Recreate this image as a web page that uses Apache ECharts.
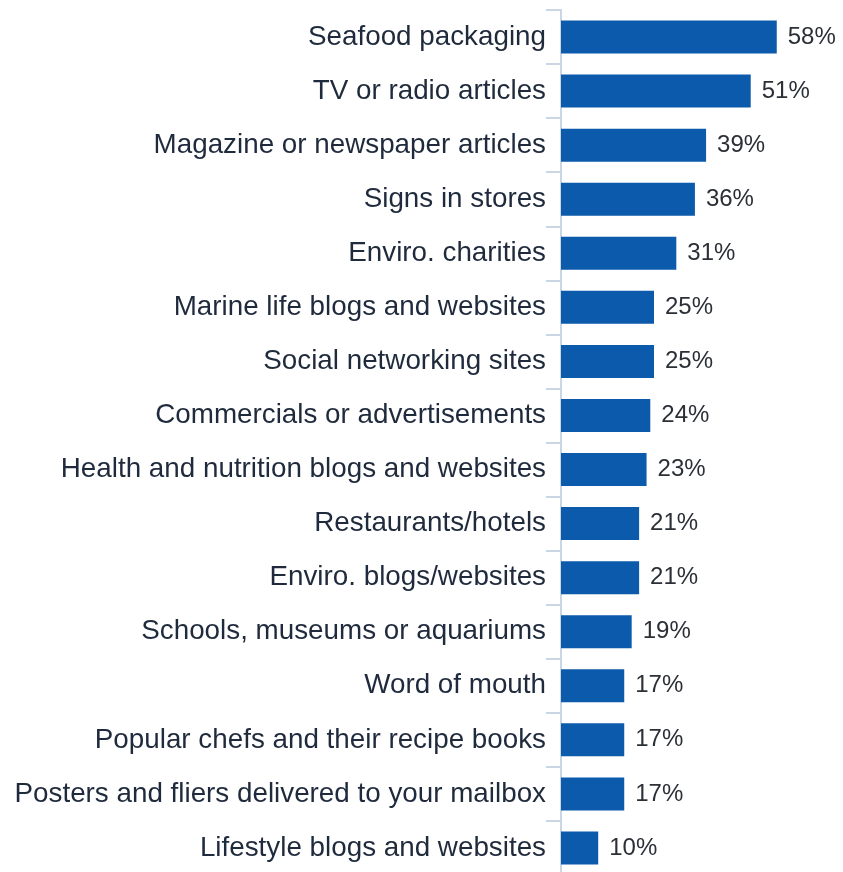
<!DOCTYPE html>
<html><head><meta charset="utf-8">
<script src="https://cdn.jsdelivr.net/npm/echarts@6/dist/echarts.min.js"></script>
<style>html,body{margin:0;padding:0;background:#fff}#c{width:843px;height:872px}</style>
</head><body><div id="c"></div>
<script>
const categories = ["Seafood packaging","TV or radio articles","Magazine or newspaper articles","Signs in stores","Enviro. charities","Marine life blogs and websites","Social networking sites","Commercials or advertisements","Health and nutrition blogs and websites","Restaurants/hotels","Enviro. blogs/websites","Schools, museums or aquariums","Word of mouth","Popular chefs and their recipe books","Posters and fliers delivered to your mailbox","Lifestyle blogs and websites"];
const values = [58,51,39,36,31,25,25,24,23,21,21,19,17,17,17,10];

const chart = echarts.init(document.getElementById('c'), null, {renderer:'canvas'});
chart.setOption({
  animation:false,
  grid:{left:561, top:10, width:260.4, height:865, containLabel:false, outerBoundsMode:'none'},
  xAxis:{type:'value', min:0, max:70, show:false},
  yAxis:{type:'category', data:categories, inverse:true,
    axisLine:{show:true, lineStyle:{color:'#c9d6e3', width:2}},
    axisTick:{show:true, length:15, lineStyle:{color:'#c9d6e3', width:2}},
    axisLabel:{margin:15, color:'#1f2a3c', fontSize:27.8, fontFamily:'Liberation Sans, Arial, sans-serif'}
  },
  series:[{type:'bar', data:values, barCategoryGap:'39%',
    itemStyle:{color:'#0b5aab'},
    label:{show:true, position:'right', distance:11, formatter:'{c}%', color:'#2b2f36', fontSize:24, fontFamily:'Liberation Sans, Arial, sans-serif'}
  }]
});
</script></body></html>
